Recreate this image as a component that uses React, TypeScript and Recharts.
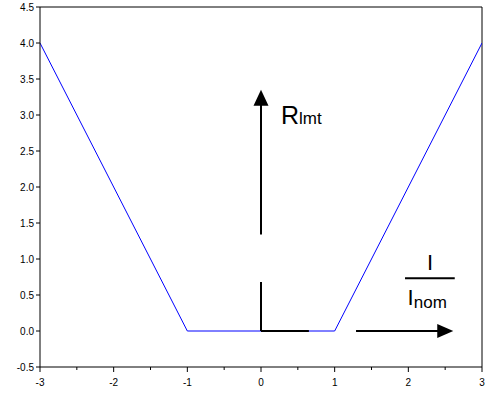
import React from "react";
import {
  LineChart,
  Line,
  XAxis,
  YAxis,
  ReferenceLine,
  ReferenceDot,
} from "recharts";

// Curve: current ratio I/Inom vs limiter resistance
const currentRatio = [-3, -1, 1, 3];
const resistance = [4, 0, 0, 4];

const xTicks = [-3, -2.5, -2, -1.5, -1, -0.5, 0, 0.5, 1, 1.5, 2, 2.5, 3];
const yTicks = [-0.5, 0, 0.5, 1, 1.5, 2, 2.5, 3, 3.5, 4, 4.5];

// Annotation geometry in data units
const upArrowX = 0;
const upArrowY = [1.34, 3.35]; // shaft start, tip
const rightArrowY = 0;
const rightArrowX = [1.29, 2.61]; // shaft start, tip
const cornerV = [0, 0.68];
const cornerH = [0, 0.65];
const fractionBar = [1.955, 2.63, 0.734]; // x1, x2, y
const rLabel = [0.27, 2.87];
const numLabel = [2.294, 0.845];
const denLabel = [1.99, 0.36];

const data = currentRatio.map((x, i) => ({ x, r: resistance[i] }));

const FONT = "'Liberation Sans', Arial, Helvetica, sans-serif";

const XTick = (props: any) => {
  const { x, y, payload } = props;
  const v = payload.value as number;
  const major = Number.isInteger(v);
  return (
    <g>
      <line x1={x} x2={x} y1={y} y2={y + (major ? 5 : 3)} stroke="#000" strokeWidth={1} />
      {major && (
        <text x={x} y={y + 19} textAnchor="middle" fontSize={10} fontFamily={FONT} fill="#000">
          {String(v)}
        </text>
      )}
    </g>
  );
};

const YTick = (props: any) => {
  const { x, y, payload } = props;
  const v = payload.value as number;
  return (
    <g>
      <line x1={x - 4} x2={x} y1={y} y2={y} stroke="#000" strokeWidth={1} />
      <text x={x - 6} y={y + 3.5} textAnchor="end" fontSize={10} fontFamily={FONT} fill="#000">
        {v.toFixed(1)}
      </text>
    </g>
  );
};

const UpHead = (p: any) => (
  <polygon
    points={`${p.cx},${p.cy} ${p.cx - 7.5},${p.cy + 16} ${p.cx + 7.5},${p.cy + 16}`}
    fill="#000"
  />
);

const RightHead = (p: any) => (
  <polygon
    points={`${p.cx},${p.cy} ${p.cx - 16},${p.cy - 7} ${p.cx - 16},${p.cy + 7}`}
    fill="#000"
  />
);

const RText = (p: any) => (
  <text x={p.cx} y={p.cy} fontFamily={FONT} fill="#000">
    <tspan fontSize={25}>R</tspan>
    <tspan fontSize={17}>lmt</tspan>
  </text>
);

const NumText = (p: any) => (
  <text x={p.cx} y={p.cy} fontFamily={FONT} fill="#000" fontSize={22} textAnchor="middle">
    I
  </text>
);

const DenText = (p: any) => (
  <text x={p.cx} y={p.cy} fontFamily={FONT} fill="#000">
    <tspan fontSize={22}>I</tspan>
    <tspan fontSize={17} dy={3}>nom</tspan>
  </text>
);

export default function App() {
  return (
    <div style={{ position: "absolute", left: 0, top: 0, width: 485, height: 394, background: "#fff" }}>
      <LineChart
        width={485}
        height={394}
        data={data}
        margin={{ top: 7, right: 3, bottom: 0, left: 0 }}
      >
        <XAxis
          type="number"
          dataKey="x"
          domain={[-3, 3]}
          ticks={xTicks}
          interval={0}
          height={27}
          tickSize={0}
          tickMargin={0}
          tickLine={false}
          axisLine={{ stroke: "#000", strokeWidth: 1 }}
          tick={<XTick />}
          allowDataOverflow
        />
        <YAxis
          type="number"
          domain={[-0.5, 4.5]}
          ticks={yTicks}
          interval={0}
          width={40}
          tickSize={0}
          tickMargin={0}
          tickLine={false}
          axisLine={{ stroke: "#000", strokeWidth: 1 }}
          tick={<YTick />}
          allowDataOverflow
        />
        <ReferenceLine y={4.5} stroke="#000" strokeWidth={1} />
        <ReferenceLine x={3} stroke="#000" strokeWidth={1} />
        <Line
          type="linear"
          dataKey="r"
          stroke="#0000ff"
          strokeWidth={1}
          dot={false}
          isAnimationActive={false}
        />
        {/* corner mark at origin */}
        <ReferenceLine
          segment={[{ x: 0, y: cornerV[0] }, { x: 0, y: cornerV[1] }]}
          stroke="#000"
          strokeWidth={2}
        />
        <ReferenceLine
          segment={[{ x: cornerH[0], y: 0 }, { x: cornerH[1], y: 0 }]}
          stroke="#000"
          strokeWidth={2}
        />
        {/* up arrow */}
        <ReferenceLine
          segment={[{ x: upArrowX, y: upArrowY[0] }, { x: upArrowX, y: upArrowY[1] - 0.15 }]}
          stroke="#000"
          strokeWidth={2}
        />
        <ReferenceDot x={upArrowX} y={upArrowY[1]} r={0} shape={UpHead} />
        {/* right arrow */}
        <ReferenceLine
          segment={[{ x: rightArrowX[0], y: rightArrowY }, { x: rightArrowX[1] - 0.15, y: rightArrowY }]}
          stroke="#000"
          strokeWidth={2}
        />
        <ReferenceDot x={rightArrowX[1]} y={rightArrowY} r={0} shape={RightHead} />
        {/* fraction bar */}
        <ReferenceLine
          segment={[{ x: fractionBar[0], y: fractionBar[2] }, { x: fractionBar[1], y: fractionBar[2] }]}
          stroke="#000"
          strokeWidth={2}
        />
        <ReferenceDot x={rLabel[0]} y={rLabel[1]} r={0} shape={RText} />
        <ReferenceDot x={numLabel[0]} y={numLabel[1]} r={0} shape={NumText} />
        <ReferenceDot x={denLabel[0]} y={denLabel[1]} r={0} shape={DenText} />
      </LineChart>
    </div>
  );
}
